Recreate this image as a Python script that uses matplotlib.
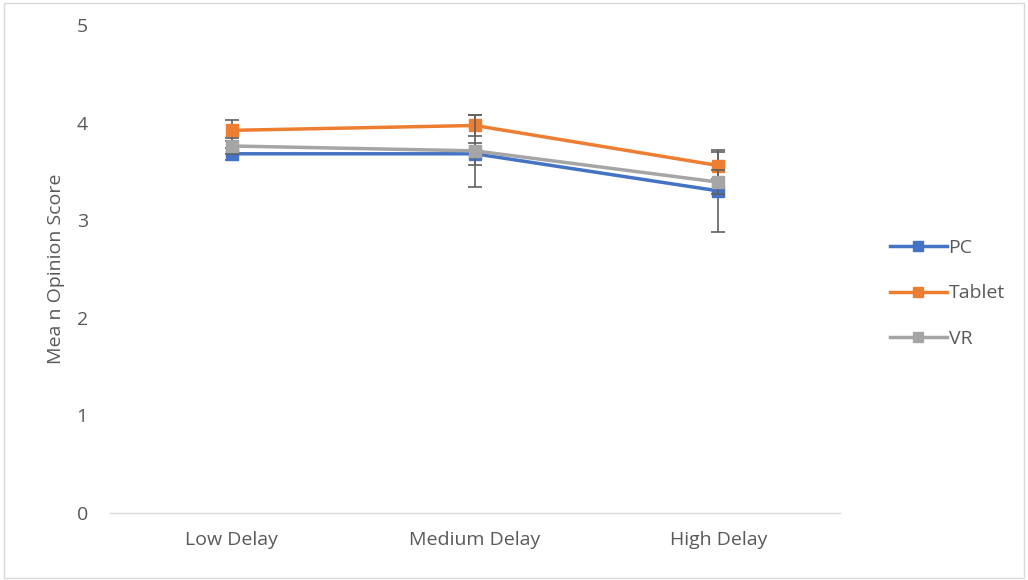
import numpy as np
import matplotlib.pyplot as plt
from matplotlib.patches import Rectangle

# categories and mean opinion scores
categories = ['Low Delay', 'Medium Delay', 'High Delay']
pc = [3.68, 3.68, 3.30]
tablet = [3.92, 3.97, 3.56]
vr = [3.76, 3.71, 3.39]

# error bar half-widths
pc_err = [0.06, 0.11, 0.42]
tablet_err = [0.11, 0.11, 0.14]
vr_err = [0.08, 0.37, 0.12]

plt.rcParams['font.family'] = ['Open Sans', 'DejaVu Sans']

fig = plt.figure(figsize=(10.28, 5.8), dpi=100)
ax = fig.add_axes([0.107, 0.1155, 0.71, 0.8415])

x = np.arange(len(categories))
series = [('PC', pc, pc_err, '#4472C4'),
          ('Tablet', tablet, tablet_err, '#ED7D31'),
          ('VR', vr, vr_err, '#A5A5A5')]

for i, (name, vals, err, col) in enumerate(series):
    ax.errorbar(x, vals, yerr=err, fmt='none', ecolor='#606060',
                elinewidth=1.2, capsize=5, capthick=1.2, zorder=2 + 2 * i)
    ax.plot(x, vals, color=col, lw=2.5, marker='s', markersize=8,
            label=name, zorder=3 + 2 * i)

ax.set_xlim(-0.5, 2.5)
ax.set_ylim(0, 5)
ax.set_xticks(x)
ax.set_xticklabels(categories)
ax.set_yticks(range(6))
ax.tick_params(length=0, labelsize=14, colors='#595959')
ax.tick_params(axis='x', pad=13)
ax.tick_params(axis='y', pad=16)
for s in ['top', 'right', 'left']:
    ax.spines[s].set_visible(False)
ax.spines['bottom'].set_color('#D9D9D9')
ax.spines['bottom'].set_linewidth(1)
ax.set_ylabel('Mea n Opinion Score', fontsize=14, color='#595959', labelpad=8)

leg = ax.legend(loc='center left', bbox_to_anchor=(1.045, 0.45), frameon=False,
                fontsize=14, handlelength=2.9, handletextpad=0.1,
                labelspacing=1.4, markerscale=0.9)
for t in leg.get_texts():
    t.set_color('#595959')

fig.patches.append(Rectangle((0.004, 0.004), 0.992, 0.99, transform=fig.transFigure,
                             fill=False, edgecolor='#D9D9D9', lw=1))

fig.savefig('out.png', dpi=100)
